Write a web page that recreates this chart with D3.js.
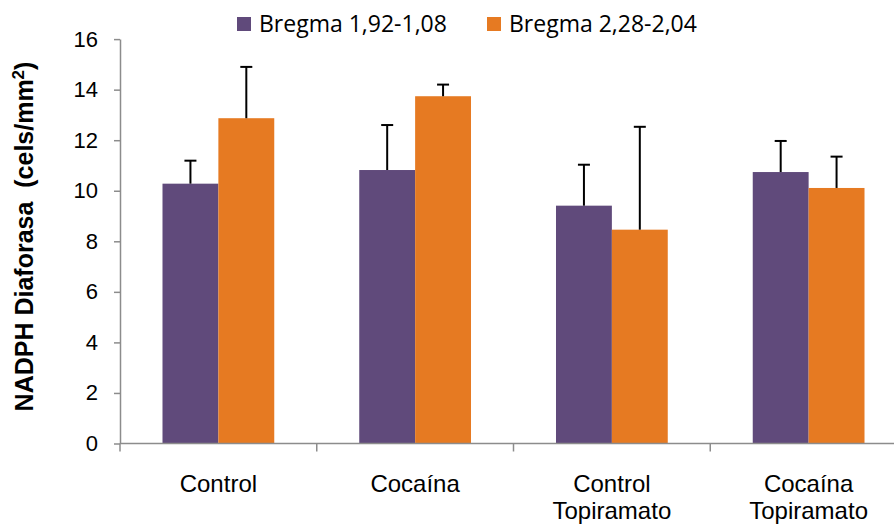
<!DOCTYPE html>
<html>
<head>
<meta charset="utf-8">
<script src="https://cdn.jsdelivr.net/npm/d3@7"></script>
<style>
  html, body { margin: 0; padding: 0; background: #fff; }
  svg { display: block; }
</style>
</head>
<body>
<script>
// Grupos experimentales (líneas separadas con "\n")
const categories = ["Control", "Cocaína", "Control\nTopiramato", "Cocaína\nTopiramato"];
const seriesNames = ["Bregma 1,92-1,08", "Bregma 2,28-2,04"];
const seriesColors = ["#604a7b", "#e67a22"];
// Medias y límite superior de la barra de error (media + EEM)
const meansA = [10.28, 10.82, 9.41, 10.74];
const errTopA = [11.19, 12.60, 11.03, 11.97];
const meansB = [12.87, 13.74, 8.46, 10.11];
const errTopB = [14.90, 14.20, 12.53, 11.35];
const yTicks = [0, 2, 4, 6, 8, 10, 12, 14, 16];

const W = 894, H = 526;
const plot = { left: 120, right: 907, top: 39.1, bottom: 443.5 };
const sans = "'Liberation Sans', Arial, sans-serif";

const svg = d3.select("body").append("svg").attr("width", W).attr("height", H);

const x0 = d3.scaleBand().domain(categories).range([plot.left, plot.right]).padding(0);
const bw = x0.bandwidth();
const edge = bw * 0.216;
const x1 = d3.scaleBand().domain(seriesNames).range([edge, bw - edge]).padding(0);
const y = d3.scaleLinear().domain([0, 16]).range([plot.bottom, plot.top]);

const rows = categories.map((c, i) => ({
  cat: c,
  vals: [
    { s: seriesNames[0], v: meansA[i], e: errTopA[i], color: seriesColors[0] },
    { s: seriesNames[1], v: meansB[i], e: errTopB[i], color: seriesColors[1] }
  ]
}));

// Barras
const groups = svg.append("g").selectAll("g").data(rows).join("g")
  .attr("transform", d => `translate(${x0(d.cat)},0)`);

groups.selectAll("rect").data(d => d.vals).join("rect")
  .attr("x", d => x1(d.s))
  .attr("width", x1.bandwidth())
  .attr("y", d => y(d.v))
  .attr("height", d => y(0) - y(d.v))
  .attr("fill", d => d.color);

// Barras de error (solo hacia arriba)
const errs = groups.selectAll("g.err").data(d => d.vals).join("g").attr("class", "err");
errs.append("line")
  .attr("x1", d => x1(d.s) + x1.bandwidth() / 2)
  .attr("x2", d => x1(d.s) + x1.bandwidth() / 2)
  .attr("y1", d => y(d.v))
  .attr("y2", d => y(d.e))
  .attr("stroke", "#000").attr("stroke-width", 2);
errs.append("line")
  .attr("x1", d => x1(d.s) + x1.bandwidth() / 2 - 6)
  .attr("x2", d => x1(d.s) + x1.bandwidth() / 2 + 6)
  .attr("y1", d => y(d.e))
  .attr("y2", d => y(d.e))
  .attr("stroke", "#000").attr("stroke-width", 2);

// Eje Y
const yAxis = svg.append("g")
  .attr("transform", `translate(${plot.left},0)`)
  .call(d3.axisLeft(y).tickValues(yTicks).tickSize(6).tickSizeOuter(0).tickPadding(16));
yAxis.select(".domain").attr("stroke", "#8c8c8c").attr("stroke-width", 1.5);
yAxis.selectAll(".tick line").attr("stroke", "#8c8c8c").attr("stroke-width", 1.5);
yAxis.selectAll(".tick text")
  .attr("font-family", sans)
  .attr("font-size", 22).attr("fill", "#000");

// Eje X
const xAxis = svg.append("g").attr("transform", `translate(0,${plot.bottom})`);
xAxis.append("line")
  .attr("x1", plot.left).attr("x2", plot.right)
  .attr("y1", 0).attr("y2", 0)
  .attr("stroke", "#8c8c8c").attr("stroke-width", 1.5);
xAxis.selectAll("line.tk").data(categories).join("line").attr("class", "tk")
  .attr("x1", d => x0(d)).attr("x2", d => x0(d))
  .attr("y1", 0).attr("y2", 8)
  .attr("stroke", "#8c8c8c").attr("stroke-width", 1.5);

const labels = xAxis.selectAll("text").data(categories).join("text")
  .attr("x", d => x0(d) + bw / 2)
  .attr("y", 48.5)
  .attr("text-anchor", "middle")
  .attr("font-family", sans)
  .attr("font-size", 24).attr("fill", "#000");
labels.each(function(d) {
  const parts = d.split("\n");
  d3.select(this).selectAll("tspan").data(parts).join("tspan")
    .attr("x", x0(d) + bw / 2)
    .attr("dy", (p, i) => i === 0 ? 0 : 27)
    .text(p => p);
});

// Título del eje Y
svg.append("text")
  .attr("transform", `translate(33,236.5) rotate(-90)`)
  .attr("text-anchor", "middle")
  .attr("font-family", sans)
  .attr("font-size", 25).attr("font-weight", "bold").attr("fill", "#000")
  .html("NADPH Diaforasa&#160;&#160;(cels/mm<tspan dy='-9' font-size='17'>2</tspan><tspan dy='9'>)</tspan>");

// Leyenda
const legendX = [237, 487];
const leg = svg.append("g").selectAll("g").data(seriesNames).join("g")
  .attr("transform", (d, i) => `translate(${legendX[i]},17)`);
leg.append("rect").attr("width", 14).attr("height", 14)
  .attr("fill", (d, i) => seriesColors[i]);
leg.append("text").attr("x", 22).attr("y", 14.5)
  .attr("font-family", "'Open Sans', sans-serif")
  .attr("font-size", 23).attr("fill", "#000")
  .text(d => d);
</script>
</body>
</html>
